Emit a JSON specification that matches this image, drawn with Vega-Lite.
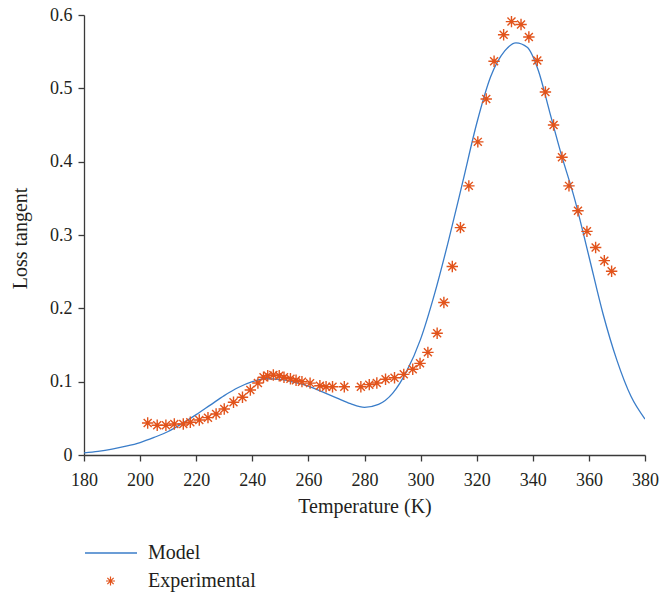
{
  "$schema": "https://vega.github.io/schema/vega-lite/v6.json",
  "autosize": {"type": "none"},
  "padding": {"left": 84, "top": 15, "right": 14, "bottom": 140},
  "width": 561,
  "height": 440,
  "background": "white",
  "config": {
    "view": {"stroke": null},
    "font": "Liberation Serif",
    "axis": {
      "domainColor": "#3a3a3a",
      "domainWidth": 1.3,
      "tickColor": "#3a3a3a",
      "tickWidth": 1.3,
      "tickSize": 6,
      "grid": false,
      "labelFont": "Liberation Serif",
      "labelFontSize": 18,
      "labelColor": "#231f20",
      "titleFont": "Liberation Serif",
      "titleFontSize": 20,
      "titleFontWeight": "normal",
      "titleColor": "#231f20"
    },
    "legend": {
      "labelFont": "Liberation Serif",
      "labelFontSize": 20,
      "labelColor": "#231f20",
      "padding": 0
    }
  },
  "datasets": {
    "model": [
      {"T": 180, "v": 0.003, "series": "Model"},
      {"T": 185, "v": 0.005, "series": "Model"},
      {"T": 190, "v": 0.008, "series": "Model"},
      {"T": 195, "v": 0.012, "series": "Model"},
      {"T": 200, "v": 0.017, "series": "Model"},
      {"T": 205, "v": 0.024, "series": "Model"},
      {"T": 210, "v": 0.032, "series": "Model"},
      {"T": 215, "v": 0.043, "series": "Model"},
      {"T": 220, "v": 0.055, "series": "Model"},
      {"T": 225, "v": 0.068, "series": "Model"},
      {"T": 230, "v": 0.081, "series": "Model"},
      {"T": 235, "v": 0.092, "series": "Model"},
      {"T": 240, "v": 0.100, "series": "Model"},
      {"T": 245, "v": 0.104, "series": "Model"},
      {"T": 250, "v": 0.103, "series": "Model"},
      {"T": 255, "v": 0.099, "series": "Model"},
      {"T": 260, "v": 0.094, "series": "Model"},
      {"T": 265, "v": 0.086, "series": "Model"},
      {"T": 270, "v": 0.078, "series": "Model"},
      {"T": 275, "v": 0.070, "series": "Model"},
      {"T": 280, "v": 0.065, "series": "Model"},
      {"T": 285, "v": 0.069, "series": "Model"},
      {"T": 290, "v": 0.084, "series": "Model"},
      {"T": 295, "v": 0.114, "series": "Model"},
      {"T": 300, "v": 0.158, "series": "Model"},
      {"T": 305, "v": 0.220, "series": "Model"},
      {"T": 310, "v": 0.293, "series": "Model"},
      {"T": 315, "v": 0.372, "series": "Model"},
      {"T": 320, "v": 0.452, "series": "Model"},
      {"T": 325, "v": 0.516, "series": "Model"},
      {"T": 330, "v": 0.551, "series": "Model"},
      {"T": 334, "v": 0.562, "series": "Model"},
      {"T": 338, "v": 0.556, "series": "Model"},
      {"T": 342, "v": 0.524, "series": "Model"},
      {"T": 346, "v": 0.468, "series": "Model"},
      {"T": 350, "v": 0.412, "series": "Model"},
      {"T": 355, "v": 0.348, "series": "Model"},
      {"T": 360, "v": 0.271, "series": "Model"},
      {"T": 365, "v": 0.193, "series": "Model"},
      {"T": 370, "v": 0.129, "series": "Model"},
      {"T": 375, "v": 0.080, "series": "Model"},
      {"T": 380, "v": 0.049, "series": "Model"}
    ],
    "experimental": [
      {"T": 202.7, "v": 0.0436, "series": "Experimental"},
      {"T": 206.1, "v": 0.0405, "series": "Experimental"},
      {"T": 209.2, "v": 0.0405, "series": "Experimental"},
      {"T": 212.2, "v": 0.0423, "series": "Experimental"},
      {"T": 215.4, "v": 0.0423, "series": "Experimental"},
      {"T": 217.9, "v": 0.0446, "series": "Experimental"},
      {"T": 221.1, "v": 0.0477, "series": "Experimental"},
      {"T": 224.2, "v": 0.0509, "series": "Experimental"},
      {"T": 227.1, "v": 0.0559, "series": "Experimental"},
      {"T": 230.0, "v": 0.0627, "series": "Experimental"},
      {"T": 233.3, "v": 0.0719, "series": "Experimental"},
      {"T": 236.5, "v": 0.0787, "series": "Experimental"},
      {"T": 239.3, "v": 0.0886, "series": "Experimental"},
      {"T": 242.0, "v": 0.0982, "series": "Experimental"},
      {"T": 244.0, "v": 0.106, "series": "Experimental"},
      {"T": 245.5, "v": 0.108, "series": "Experimental"},
      {"T": 247.5, "v": 0.109, "series": "Experimental"},
      {"T": 249.6, "v": 0.108, "series": "Experimental"},
      {"T": 251.3, "v": 0.106, "series": "Experimental"},
      {"T": 253.6, "v": 0.104, "series": "Experimental"},
      {"T": 255.6, "v": 0.102, "series": "Experimental"},
      {"T": 257.7, "v": 0.100, "series": "Experimental"},
      {"T": 260.6, "v": 0.098, "series": "Experimental"},
      {"T": 264.1, "v": 0.0945, "series": "Experimental"},
      {"T": 266.3, "v": 0.0931, "series": "Experimental"},
      {"T": 268.6, "v": 0.0931, "series": "Experimental"},
      {"T": 272.8, "v": 0.0931, "series": "Experimental"},
      {"T": 278.7, "v": 0.0931, "series": "Experimental"},
      {"T": 281.7, "v": 0.0959, "series": "Experimental"},
      {"T": 284.4, "v": 0.0982, "series": "Experimental"},
      {"T": 287.5, "v": 0.1032, "series": "Experimental"},
      {"T": 290.7, "v": 0.1054, "series": "Experimental"},
      {"T": 294.0, "v": 0.110, "series": "Experimental"},
      {"T": 297.2, "v": 0.117, "series": "Experimental"},
      {"T": 299.8, "v": 0.125, "series": "Experimental"},
      {"T": 302.6, "v": 0.140, "series": "Experimental"},
      {"T": 305.9, "v": 0.166, "series": "Experimental"},
      {"T": 308.3, "v": 0.208, "series": "Experimental"},
      {"T": 311.3, "v": 0.257, "series": "Experimental"},
      {"T": 314.2, "v": 0.310, "series": "Experimental"},
      {"T": 317.2, "v": 0.367, "series": "Experimental"},
      {"T": 320.4, "v": 0.427, "series": "Experimental"},
      {"T": 323.4, "v": 0.4855, "series": "Experimental"},
      {"T": 326.2, "v": 0.537, "series": "Experimental"},
      {"T": 329.6, "v": 0.573, "series": "Experimental"},
      {"T": 332.4, "v": 0.591, "series": "Experimental"},
      {"T": 335.8, "v": 0.587, "series": "Experimental"},
      {"T": 338.6, "v": 0.570, "series": "Experimental"},
      {"T": 341.6, "v": 0.538, "series": "Experimental"},
      {"T": 344.5, "v": 0.495, "series": "Experimental"},
      {"T": 347.4, "v": 0.450, "series": "Experimental"},
      {"T": 350.4, "v": 0.406, "series": "Experimental"},
      {"T": 352.9, "v": 0.367, "series": "Experimental"},
      {"T": 356.1, "v": 0.333, "series": "Experimental"},
      {"T": 359.3, "v": 0.305, "series": "Experimental"},
      {"T": 362.4, "v": 0.283, "series": "Experimental"},
      {"T": 365.5, "v": 0.265, "series": "Experimental"},
      {"T": 368.1, "v": 0.2505, "series": "Experimental"}
    ]
  },
  "encoding": {
    "x": {
      "field": "T",
      "type": "quantitative",
      "title": "Temperature (K)",
      "scale": {"domain": [180, 380], "nice": false, "zero": false},
      "axis": {
        "values": [180, 200, 220, 240, 260, 280, 300, 320, 340, 360, 380],
        "labelBaseline": "alphabetic",
        "labelPadding": 24,
        "labelFlush": false,
        "titleBaseline": "alphabetic",
        "titleX": 280.5,
        "titleY": 57,
        "titleAlign": "center"
      }
    },
    "y": {
      "field": "v",
      "type": "quantitative",
      "title": "Loss tangent",
      "scale": {"domain": [0, 0.6], "nice": false},
      "axis": {
        "values": [0, 0.1, 0.2, 0.3, 0.4, 0.5, 0.6],
        "labelExpr": "datum.value == 0 ? '0' : format(datum.value, '.1f')",
        "labelPadding": 6,
        "labelFlush": false,
        "titleAngle": -90,
        "titleBaseline": "alphabetic",
        "titleAlign": "center",
        "titleX": -57.5,
        "titleY": 223
      }
    }
  },
  "layer": [
    {
      "data": {"name": "model"},
      "mark": {"type": "line", "interpolate": "monotone", "strokeWidth": 1.3, "clip": true},
      "encoding": {
        "stroke": {
          "field": "series",
          "type": "nominal",
          "scale": {"domain": ["Model"], "range": ["#3A7DC9"]},
          "legend": {
            "title": null,
            "orient": "none",
            "legendX": 0,
            "legendY": 511,
            "symbolType": "stroke",
            "symbolSize": 2704,
            "symbolStrokeWidth": 1.3,
            "labelOffset": 10
          }
        }
      }
    },
    {
      "data": {"name": "experimental"},
      "mark": {"type": "point", "filled": false, "stroke": "#E2531B", "strokeWidth": 1.4, "size": 130, "opacity": 1},
      "encoding": {
        "shape": {
          "field": "series",
          "type": "nominal",
          "scale": {"domain": ["Experimental"], "range": ["M-1,0L1,0M0,-1L0,1M-0.7,-0.7L0.7,0.7M-0.7,0.7L0.7,-0.7"]},
          "legend": {
            "title": null,
            "orient": "none",
            "legendX": 16.5,
            "legendY": 556,
            "symbolSize": 81,
            "symbolStrokeColor": "#E2531B",
            "symbolFillColor": "transparent",
            "symbolStrokeWidth": 1.2,
            "labelOffset": 27.5
          }
        }
      }
    }
  ]
}
